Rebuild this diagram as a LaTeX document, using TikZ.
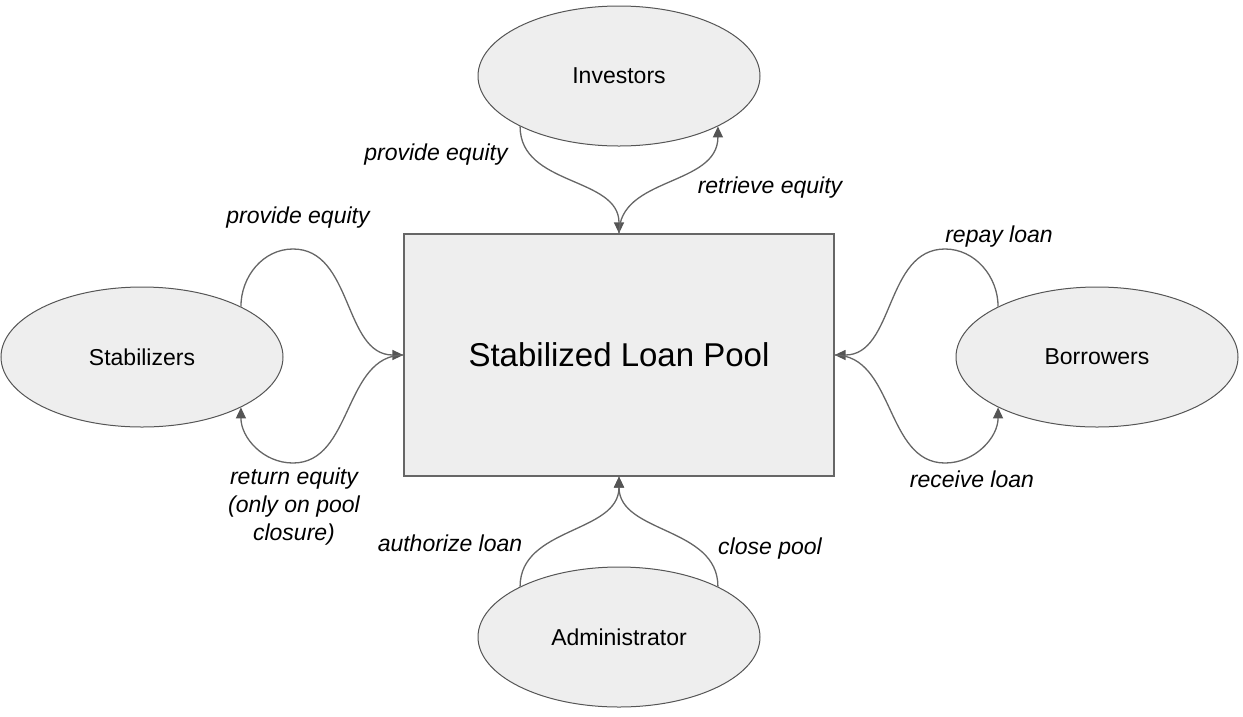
\documentclass[tikz,border=0pt]{standalone}
\usepackage{fontspec}
\setmainfont{Liberation Sans}
\usetikzlibrary{shapes.geometric,arrows.meta}
\definecolor{fillg}{HTML}{EEEEEE}
\definecolor{lineg}{HTML}{666666}
\definecolor{edgeg}{HTML}{555555}
\tikzset{
  actor/.style={ellipse, draw=edgeg, fill=fillg, line width=1pt, minimum width=282pt, minimum height=140pt, inner sep=0pt, font=\fontsize{23}{27}\selectfont},
  poolbox/.style={rectangle, draw=lineg, fill=fillg, line width=1.2pt, minimum width=430pt, minimum height=242pt, inner sep=0pt, font=\fontsize{33}{40}\selectfont},
  flow/.style={draw=lineg, line width=1.3pt, -{Triangle[length=11pt,width=10pt,color=edgeg]}, color=lineg},
  lbl/.style={font=\fontsize{23}{28}\selectfont\itshape, align=center, inner sep=0pt}
}
\begin{document}
\begin{tikzpicture}[x=1pt,y=-1pt]
\useasboundingbox (0,0) rectangle (1243,716);
\node[poolbox] (pool) at (619,355) {Stabilized Loan Pool};
\node[actor] (inv) at (619,76) {Investors};
\node[actor] (stab) at (142,357) {Stabilizers};
\node[actor] (bor) at (1097,357) {Borrowers};
\node[actor] (adm) at (619,637) {Administrator};
\coordinate (p1) at (293,249);
\coordinate (p2) at (293,463);
\coordinate (p3) at (945,249);
\coordinate (p4) at (945,463);
% investors
\draw[flow] (inv.207) .. controls +(0,60) and +(0,-57) .. (pool.north);
\draw[flow] (pool.north) .. controls +(0,-57) and +(0,60) .. (inv.333);
% stabilizers
\draw[flow] (stab.27) .. controls +(0,-30) and +(-30,0) .. (p1) .. controls +(60,0) and +(-60,0) .. (pool.west);
\draw[flow] (pool.west) .. controls +(-60,0) and +(60,0) .. (p2) .. controls +(-30,0) and +(0,30) .. (stab.333);
% borrowers
\draw[flow] (bor.153) .. controls +(0,-30) and +(30,0) .. (p3) .. controls +(-60,0) and +(60,0) .. (pool.east);
\draw[flow] (pool.east) .. controls +(60,0) and +(-60,0) .. (p4) .. controls +(30,0) and +(0,30) .. (bor.207);
% administrator
\draw[flow] (adm.153) .. controls +(0,-60) and +(0,57) .. (pool.south);
\draw[flow] (adm.27) .. controls +(0,-60) and +(0,57) .. (pool.south);
% labels
\node[lbl] (l1) at (436,155) {provide equity};
\node[lbl] (l2) at (770,188) {retrieve equity};
\node[lbl] (l3) at (298,218) {provide equity};
\node[lbl] (l4) at (294,507) {return equity\\(only on pool\\closure)};
\node[lbl] (l5) at (999,237) {repay loan};
\node[lbl] (l6) at (972,479) {receive loan};
\node[lbl] (l7) at (450,543) {authorize loan};
\node[lbl] (l8) at (770,549) {close pool};
\end{tikzpicture}
\end{document}
